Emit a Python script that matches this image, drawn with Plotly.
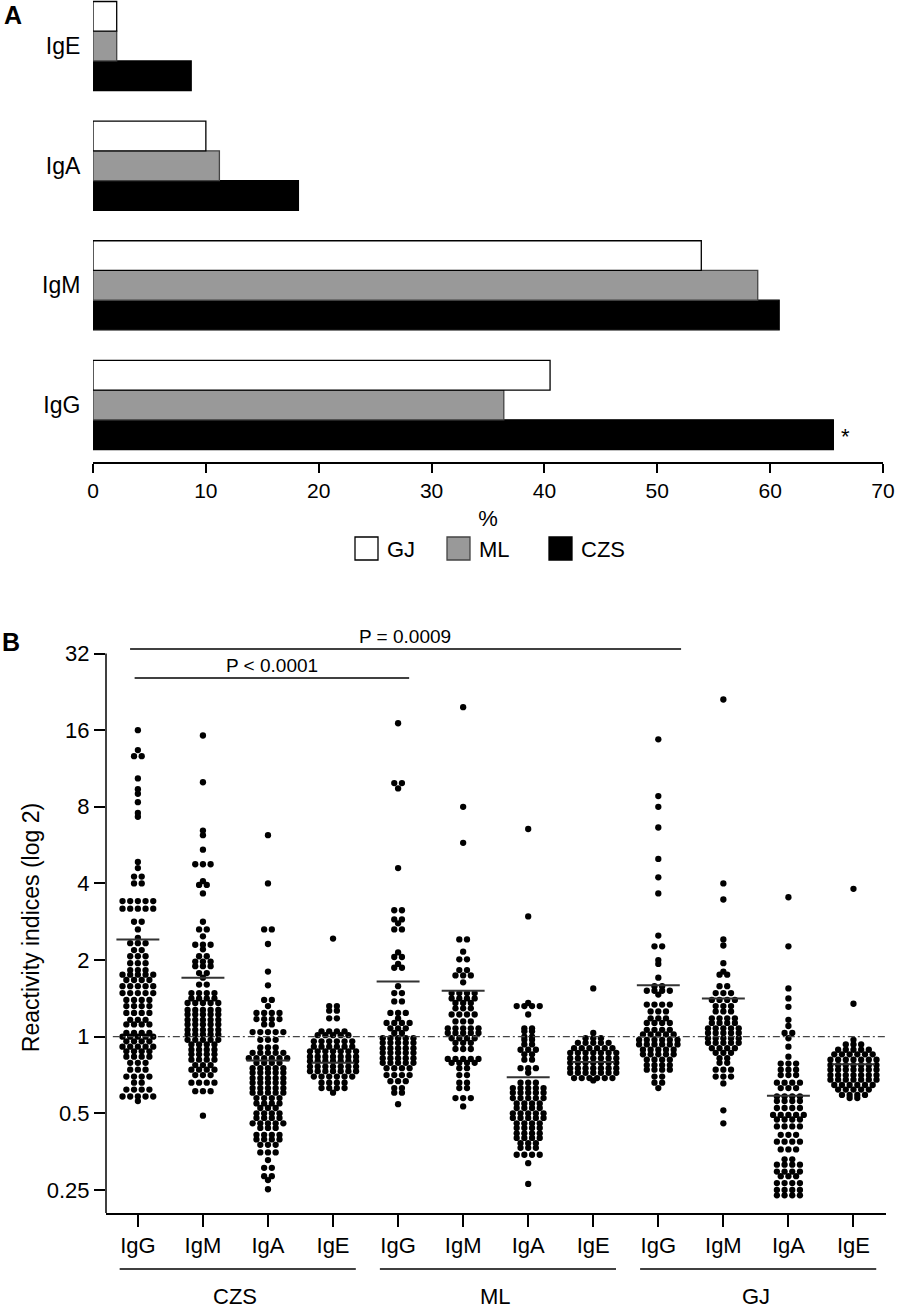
import plotly.graph_objects as go

# ---------------- Panel A data (% positive) ----------------
isotypes_a = ["IgG", "IgM", "IgA", "IgE"]
series_a = ["GJ", "ML", "CZS"]
pct_GJ = [40.5, 53.9, 10.0, 2.1]
pct_ML = [36.4, 58.9, 11.2, 2.1]
pct_CZS = [65.6, 60.8, 18.2, 8.7]

# ---------------- Panel B data ----------------
# each group: rows of (log2 reactivity index, number of dots in that row)
cohorts = ["CZS", "ML", "GJ"]
isotypes_b = ["IgG", "IgM", "IgA", "IgE"]

CZS_IgG = [(4.00,1),(3.74,1),(3.66,2),(3.37,1),(3.23,1),(3.17,1),(3.06,1),(2.92,1),(2.87,1),(2.28,1),(2.20,1),(2.09,2),(2.00,2),(1.77,5),(1.67,5),(1.50,2),(1.40,1),(1.29,1),(1.22,3),(1.13,2),(1.05,3),(0.96,3),(0.87,3),(0.81,5),(0.74,4),(0.66,5),(0.57,5),(0.48,4),(0.40,4),(0.31,4),(0.22,3),(0.16,4),(0.05,4),(0.00,5),(-0.06,4),(-0.13,5),(-0.19,4),(-0.26,4),(-0.34,3),(-0.43,3),(-0.52,4),(-0.60,2),(-0.69,4),(-0.78,5),(-0.84,1)]
CZS_IgM = [(3.93,1),(3.32,1),(2.69,1),(2.63,1),(2.44,1),(2.25,3),(2.03,1),(1.98,2),(1.87,1),(1.50,1),(1.40,2),(1.31,1),(1.20,3),(1.14,1),(1.05,2),(0.98,3),(0.92,3),(0.83,2),(0.77,1),(0.68,2),(0.57,4),(0.50,4),(0.44,5),(0.35,5),(0.29,5),(0.22,5),(0.16,5),(0.09,5),(0.03,5),(-0.04,5),(-0.10,4),(-0.17,4),(-0.23,4),(-0.30,4),(-0.37,3),(-0.43,4),(-0.50,3),(-0.60,4),(-0.71,3),(-1.03,1)]
CZS_IgA = [(2.63,1),(2.00,1),(1.40,2),(1.21,1),(0.85,1),(0.67,1),(0.48,2),(0.40,1),(0.31,4),(0.23,4),(0.16,2),(0.06,5),(-0.04,3),(-0.14,3),(-0.21,5),(-0.28,6),(-0.34,4),(-0.41,5),(-0.47,5),(-0.54,5),(-0.60,5),(-0.67,5),(-0.73,5),(-0.80,4),(-0.87,4),(-0.93,3),(-1.00,4),(-1.06,4),(-1.13,5),(-1.19,3),(-1.28,4),(-1.34,4),(-1.41,3),(-1.51,3),(-1.61,1),(-1.71,2),(-1.82,2),(-1.87,1),(-1.99,1)]
CZS_IgE = [(1.28,1),(0.40,2),(0.34,2),(0.24,2),(0.07,4),(0.02,5),(-0.06,6),(-0.13,6),(-0.19,7),(-0.26,7),(-0.32,7),(-0.39,7),(-0.45,7),(-0.52,6),(-0.60,4),(-0.67,4),(-0.73,1)]

ML_IgG = [(4.09,1),(3.31,2),(3.24,1),(2.20,1),(1.65,2),(1.53,2),(1.48,1),(1.40,2),(1.10,1),(1.04,2),(0.95,1),(0.90,2),(0.66,1),(0.57,2),(0.46,2),(0.31,3),(0.24,1),(0.18,4),(0.11,3),(0.05,2),(-0.02,5),(-0.08,5),(-0.15,5),(-0.21,5),(-0.28,5),(-0.34,5),(-0.41,4),(-0.50,4),(-0.58,3),(-0.67,2),(-0.73,2),(-0.88,1)]
ML_IgM = [(4.30,1),(3.00,1),(2.53,1),(1.27,2),(1.11,1),(1.01,2),(0.87,2),(0.80,3),(0.71,1),(0.57,4),(0.50,4),(0.44,3),(0.37,3),(0.29,4),(0.20,3),(0.11,5),(0.05,5),(-0.02,4),(-0.08,3),(-0.16,3),(-0.29,5),(-0.34,4),(-0.41,2),(-0.50,2),(-0.60,2),(-0.67,2),(-0.80,3),(-0.91,1)]
ML_IgA = [(2.71,1),(1.57,1),(0.44,1),(0.40,4),(0.29,1),(0.11,2),(0.07,2),(0.00,2),(-0.04,2),(-0.10,2),(-0.17,3),(-0.23,2),(-0.30,2),(-0.41,3),(-0.47,1),(-0.60,3),(-0.67,5),(-0.73,5),(-0.80,5),(-0.87,4),(-0.93,4),(-1.00,5),(-1.06,5),(-1.13,4),(-1.19,4),(-1.26,4),(-1.32,4),(-1.39,3),(-1.45,3),(-1.54,4),(-1.65,1),(-1.92,1)]
ML_IgE = [(0.63,1),(0.05,1),(-0.02,3),(-0.08,5),(-0.15,6),(-0.21,7),(-0.28,7),(-0.34,7),(-0.41,7),(-0.47,7),(-0.54,6),(-0.57,1)]

GJ_IgG = [(3.88,1),(3.14,1),(3.00,1),(2.73,1),(2.32,1),(2.08,1),(1.87,1),(1.32,1),(1.18,2),(1.00,1),(0.95,1),(0.77,1),(0.66,2),(0.60,4),(0.55,1),(0.42,4),(0.33,3),(0.24,3),(0.18,4),(0.09,4),(0.03,5),(-0.04,6),(-0.10,6),(-0.17,5),(-0.23,5),(-0.30,4),(-0.37,4),(-0.43,4),(-0.52,2),(-0.60,2),(-0.67,1)]
GJ_IgM = [(4.40,1),(2.00,1),(1.79,1),(1.27,1),(1.19,1),(0.96,1),(0.85,1),(0.81,2),(0.66,2),(0.57,3),(0.48,4),(0.40,3),(0.33,3),(0.24,4),(0.18,4),(0.11,5),(0.05,5),(-0.02,5),(-0.08,5),(-0.15,4),(-0.21,3),(-0.28,2),(-0.34,2),(-0.43,3),(-0.52,3),(-0.61,1),(-0.96,1),(-1.13,1)]
GJ_IgA = [(1.82,1),(1.18,1),(0.63,1),(0.50,1),(0.39,1),(0.22,1),(0.14,1),(0.05,2),(-0.02,1),(-0.13,1),(-0.26,1),(-0.35,3),(-0.43,3),(-0.50,3),(-0.60,4),(-0.67,3),(-0.78,4),(-0.84,4),(-0.93,4),(-1.02,5),(-1.08,4),(-1.17,4),(-1.28,3),(-1.37,4),(-1.47,3),(-1.60,2),(-1.67,4),(-1.76,4),(-1.82,3),(-1.91,4),(-2.00,4),(-2.07,4)]
GJ_IgE = [(1.93,1),(0.43,1),(-0.04,1),(-0.10,3),(-0.17,5),(-0.23,6),(-0.30,7),(-0.37,7),(-0.43,7),(-0.50,7),(-0.56,7),(-0.63,6),(-0.69,5),(-0.76,4),(-0.80,2)]

# group means (log2)
means_CZS = [1.27, 0.77, -0.31, -0.34]
means_ML = [0.72, 0.60, -0.53, -0.33]
means_GJ = [0.67, 0.50, -0.77, -0.36]

# significance brackets: (x start, x end, log2 height, label, label x)
brackets = [(-0.12, 8.35, 5.06, "P = 0.0009", 4.1),
            (-0.05, 4.17, 4.68, "P < 0.0001", 2.06)]

ytick_labels = ["0.25", "0.5", "1", "2", "4", "8", "16", "32"]

FONT = "Liberation Sans, Arial, sans-serif"
W, H = 897, 1308

fig = go.Figure()

# ---------- Panel A ----------
bar_styles = {"GJ": ("white", "black"), "ML": ("#999999", "#444444"), "CZS": ("black", "black")}
vals = {"GJ": pct_GJ, "ML": pct_ML, "CZS": pct_CZS}
for s in reversed(series_a):
    fc, lc = bar_styles[s]
    fig.add_trace(go.Bar(y=isotypes_a, x=vals[s], orientation="h", name=s,
                         marker=dict(color=fc, line=dict(color=lc, width=1.3)),
                         xaxis="x", yaxis="y"))

# ---------- Panel B ----------
SP = 0.118
groups_b = [CZS_IgG, CZS_IgM, CZS_IgA, CZS_IgE,
            ML_IgG, ML_IgM, ML_IgA, ML_IgE,
            GJ_IgG, GJ_IgM, GJ_IgA, GJ_IgE]
xs, ys = [], []
for gi, rows in enumerate(groups_b):
    for lv, n in rows:
        for k in range(n):
            xs.append(gi + (k - (n - 1) / 2) * SP)
            ys.append(lv)
fig.add_trace(go.Scatter(x=xs, y=ys, mode="markers",
                         marker=dict(color="black", size=6.3, symbol="circle"),
                         xaxis="x2", yaxis="y2", hoverinfo="skip"))

all_means = means_CZS + means_ML + means_GJ
mx, my = [], []
for gi, m in enumerate(all_means):
    mx += [gi - 0.33, gi + 0.33, None]
    my += [m, m, None]
fig.add_trace(go.Scatter(x=mx, y=my, mode="lines", line=dict(color="#333333", width=2),
                         xaxis="x2", yaxis="y2", hoverinfo="skip"))

ncat = len(groups_b)
shapes = []
annotations = []

# reference line at index 1
shapes.append(dict(type="line", xref="x2", yref="y2", x0=-0.385, x1=ncat - 0.5, y0=0, y1=0,
                   line=dict(color="#444444", width=1.2, dash="7px,3px,2px,3px")))
# y spine of panel B (to 32)
shapes.append(dict(type="line", xref="x2 domain", yref="y2", x0=0, x1=0, y0=-2.3, y1=5,
                   line=dict(color="black", width=1.5)))
# brackets
for x0, x1, yv, lab, lx in brackets:
    shapes.append(dict(type="line", xref="x2", yref="y2", x0=x0, x1=x1, y0=yv, y1=yv,
                       line=dict(color="black", width=1.5)))
    annotations.append(dict(x=lx, y=yv, xref="x2", yref="y2", text=lab, showarrow=False,
                            yanchor="bottom", yshift=0, font=dict(size=19, family=FONT)))
# cohort underlines and labels
for ci, c in enumerate(cohorts):
    base = ci * 4
    shapes.append(dict(type="line", xref="x2", yref="paper", x0=base - 0.28, x1=base + 3.35,
                       y0=1 - 1269 / H, y1=1 - 1269 / H, line=dict(color="black", width=1.5)))
    annotations.append(dict(x=base + 1.5, y=1 - 1296 / H, xref="x2", yref="paper", text=c,
                            showarrow=False, yanchor="middle", font=dict(size=22, family=FONT)))

# asterisk on CZS IgG bar
annotations.append(dict(x=pct_CZS[0], y="IgG", xref="x", yref="y", text="*", showarrow=False,
                        xanchor="left", xshift=6, yshift=-32, font=dict(size=22, family=FONT)))

# manual legend for panel A
leg_x = [355, 447, 549]
for s, lx in zip(series_a, leg_x):
    fc, lc = bar_styles[s]
    shapes.append(dict(type="rect", xref="paper", yref="paper", x0=lx / W, x1=(lx + 23) / W,
                       y0=1 - 560 / H, y1=1 - 537 / H, fillcolor=fc, line=dict(color=lc, width=1.3)))
    annotations.append(dict(x=(lx + 30) / W, y=1 - 549 / H, xref="paper", yref="paper", text=s,
                            showarrow=False, xanchor="left", yanchor="middle",
                            font=dict(size=22, family=FONT)))

# panel letters
annotations.append(dict(x=2 / W, y=1 - 15 / H, xref="paper", yref="paper", text="<b>A</b>",
                        showarrow=False, xanchor="left", yanchor="middle",
                        font=dict(size=25, family=FONT)))
annotations.append(dict(x=0 / W, y=1 - 642 / H, xref="paper", yref="paper", text="<b>B</b>",
                        showarrow=False, xanchor="left", yanchor="middle",
                        font=dict(size=25, family=FONT)))

fig.update_layout(
    width=W, height=H, margin=dict(l=0, r=0, t=0, b=0),
    plot_bgcolor="white", paper_bgcolor="white", showlegend=False,
    barmode="group", bargap=0.255, bargroupgap=0,
    font=dict(family=FONT, size=22, color="black"),
    shapes=shapes, annotations=annotations,
    xaxis=dict(domain=[93 / W, 883 / W], anchor="y", range=[0, 70], tickvals=list(range(0, 71, 10)),
               ticks="outside", ticklen=9, tickwidth=1.5, tickcolor="black",
               showline=True, linewidth=1.5, linecolor="black", showgrid=False, zeroline=False,
               title=dict(text="%", standoff=10, font=dict(size=22)), tickfont=dict(size=21),
               automargin=False),
    yaxis=dict(domain=[1 - 462 / H, 1.0], anchor="x", type="category", categoryorder="array",
               categoryarray=isotypes_a, range=[-0.477, 3.385], showline=False,
               ticks="outside", ticklen=7, tickcolor="rgba(255,255,255,0)",
               showgrid=False, zeroline=False, tickfont=dict(size=23), automargin=False),
    xaxis2=dict(domain=[106 / W, 886 / W], anchor="y2", range=[-0.49, ncat - 0.5],
                tickvals=list(range(ncat)), ticktext=isotypes_b * len(cohorts),
                ticks="outside", ticklen=12, tickwidth=1.5, tickcolor="black",
                showline=True, linewidth=1.5, linecolor="black", showgrid=False, zeroline=False,
                tickfont=dict(size=22), automargin=False),
    yaxis2=dict(domain=[1 - 1213 / H, 1 - 642 / H], anchor="x2", range=[-2.3, 5.15],
                tickvals=list(range(-2, 6)), ticktext=ytick_labels,
                ticks="outside", ticklen=11, tickwidth=1.5, tickcolor="black",
                showline=False, showgrid=False, zeroline=False, tickfont=dict(size=22),
                title=dict(text="Reactivity indices (log 2)", standoff=0, font=dict(size=23)),
                automargin=False),
)

fig.write_html("out.html", config={"displayModeBar": False},
               post_script="document.body.style.margin='0px';document.body.style.overflow='hidden';")
